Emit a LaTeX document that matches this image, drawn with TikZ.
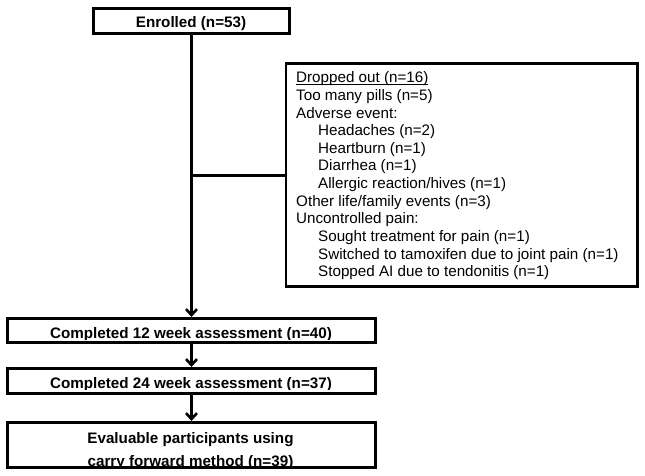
\documentclass[tikz,border=0pt]{standalone}
\usepackage{fontspec}
\setmainfont{Liberation Sans}
\usetikzlibrary{arrows.meta}
\newcommand{\myul}[1]{{\setbox0\hbox{#1}\rlap{\raisebox{-2pt}{\rule{\wd0}{1.1pt}}}\box0}}
\begin{document}
\begin{tikzpicture}[x=1pt,y=-1pt,
  box/.style={draw, line width=2.8pt, inner sep=0pt},
  btext/.style={font=\fontsize{15.2}{18}\selectfont\bfseries, inner sep=0pt, anchor=base},
  rtext/.style={font=\fontsize{15.2}{17.6}\selectfont, inner sep=0pt, anchor=base west},
  conn/.style={line width=2.6pt},
  arr/.style={line width=2.6pt, -{Straight Barb[length=6pt,width=11pt]}}
]
\useasboundingbox (0,0) rectangle (645,476);
% boxes
\node[box, minimum width=196.2pt, minimum height=25.2pt] (enr) at (191.5,21) {};
\node[box, minimum width=351.7pt, minimum height=222.7pt] (drop) at (461.75,175.25) {};
\node[box, minimum width=368.2pt, minimum height=24.2pt] (c12) at (191.5,330.5) {};
\node[box, minimum width=368.2pt, minimum height=25.2pt] (c24) at (191.5,381) {};
\node[box, minimum width=368.2pt, minimum height=45.2pt] (ev) at (191.5,445) {};
% texts
\node[btext] (enrt) at (191,28) {Enrolled (n=53)};
\begin{scope}
\clip (6,300) rectangle (377,339.5);
\node[btext] (t12) at (191,338.5) {Completed 12 week assessment (n=40)};
\end{scope}
\begin{scope}
\clip (6,350) rectangle (377,389);
\node[btext] (t24) at (191,388) {Completed 24 week assessment (n=37)};
\end{scope}
\node[btext] (ev1) at (190.5,443) {Evaluable participants using};
\begin{scope}
\clip (6,450) rectangle (377,467);
\node[btext] (ev2) at (190.5,466) {carry forward method (n=39)};
\end{scope}
% dropped-out list
\node[rtext] (d0) at (296,83) {\myul{Dropped out (n=16)}};
\node[rtext] (d1) at (296,100.6) {Too many pills (n=5)};
\node[rtext] (d2) at (296,118.2) {Adverse event:};
\node[rtext] (d3) at (318,135.8) {Headaches (n=2)};
\node[rtext] (d4) at (318,153.4) {Heartburn (n=1)};
\node[rtext] (d5) at (318,171.0) {Diarrhea (n=1)};
\node[rtext] (d6) at (318,188.6) {Allergic reaction/hives (n=1)};
\node[rtext] (d7) at (296,206.2) {Other life/family events (n=3)};
\node[rtext] (d8) at (296,223.8) {Uncontrolled pain:};
\node[rtext] (d9) at (318,241.4) {Sought treatment for pain (n=1)};
\node[rtext] (d10) at (318,259.0) {Switched to tamoxifen due to joint pain (n=1)};
\node[rtext] (d11) at (318,276.6) {Stopped AI due to tendonitis (n=1)};
% connectors
\coordinate (j) at (enr.south |- drop.west);
\draw[arr] (enr.south) -- (c12.north);
\draw[conn] (j) -- (drop.west);
\draw[arr] (c12.south) -- (c24.north);
\draw[arr] (c24.south) -- (ev.north);
\end{tikzpicture}
\end{document}
